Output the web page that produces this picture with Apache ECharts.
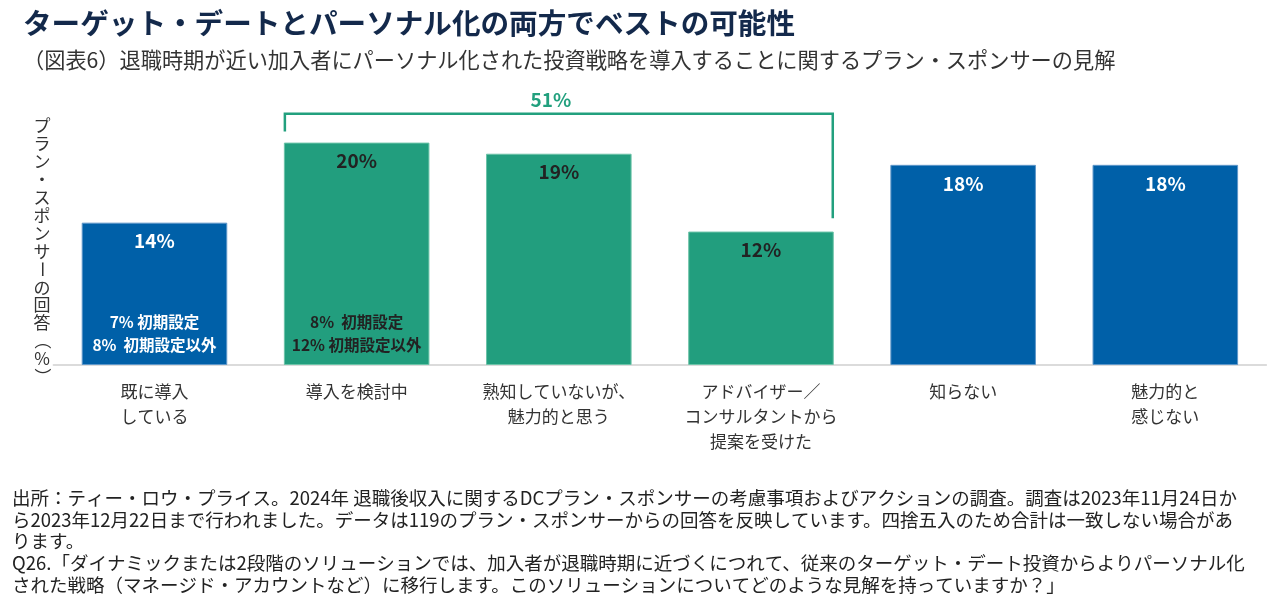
<!DOCTYPE html>
<html><head><meta charset="utf-8">
<script src="https://cdn.jsdelivr.net/npm/echarts@6/dist/echarts.min.js"></script>
<style>html,body{margin:0;padding:0;background:#fff}#c{width:1280px;height:610px}</style>
</head><body><div id="c"></div>
<script>
const titleText = 'ターゲット・デートとパーソナル化の両方でベストの可能性';
const subtitleText = '（図表6）退職時期が近い加入者にパーソナル化された投資戦略を導入することに関するプラン・スポンサーの見解';
const categories = ['既に導入\nしている', '導入を検討中', '熟知していないが、\n魅力的と思う', 'アドバイザー／\nコンサルタントから\n提案を受けた', '知らない', '魅力的と\n感じない'];
const values = [12.8, 20, 19, 12, 18, 18];
const valueLabels = ['14%', '20%', '19%', '12%', '18%', '18%'];
const groups = ['blue', 'green', 'green', 'green', 'blue', 'blue'];
const breakdown = [['7% 初期設定', '8%  初期設定以外'], ['8%  初期設定', '12% 初期設定以外'], null, null, null, null];
const bracketFrom = 1, bracketTo = 3;
const bracketTopValue = 22.6, bracketLeftEndValue = 21.0, bracketRightEndValue = 13.2;
const bracketLabel = '51%';
const yAxisNameText = 'プラン・スポンサーの回答（%）';
const footnoteLines = [
  '出所：ティー・ロウ・プライス。2024年 退職後収入に関するDCプラン・スポンサーの考慮事項およびアクションの調査。調査は2023年11月24日か',
  'ら2023年12月22日まで行われました。データは119のプラン・スポンサーからの回答を反映しています。四捨五入のため合計は一致しない場合があ',
  'ります。',
  'Q26.「ダイナミックまたは2段階のソリューションでは、加入者が退職時期に近づくにつれて、従来のターゲット・デート投資からよりパーソナル化',
  'された戦略（マネージド・アカウントなど）に移行します。このソリューションについてどのような見解を持っていますか？」'
];

const FONT = "'Noto Sans CJK JP', 'Noto Sans', sans-serif";
const COLORS = {
  blue: {fill: '#0060A8', border: '#5E97C9', text: '#ffffff'},
  green: {fill: '#229E7E', border: '#6CC3A8', text: '#222222'}
};
const BAR_RATIO = 0.72;

// vertical (tategaki) axis name: chars that turn 90° in vertical writing
const ROTATED = ['ー', '（', '）'];
const Y_NAME_X = 42, Y_NAME_TOP = 126, Y_NAME_STEP = 17.9;
const yNameElements = Array.from(yAxisNameText).map((ch, i) => ({
  type: 'text',
  x: Y_NAME_X, y: Y_NAME_TOP + i * Y_NAME_STEP,
  originX: 0, originY: 0,
  rotation: ROTATED.indexOf(ch) >= 0 ? -Math.PI / 2 : 0,
  style: {text: ch, fill: '#333333', font: '17px ' + FONT, align: 'center', verticalAlign: 'middle'}
}));

const chart = echarts.init(document.getElementById('c'));
const option = {
  animation: false,
  textStyle: {fontFamily: FONT},
  title: [
    {text: titleText, left: 18, top: 4, textStyle: {fontFamily: FONT, fontSize: 28.6, fontWeight: 'bold', color: '#13294B'}},
    {text: subtitleText, left: 18, top: 44, textStyle: {fontFamily: FONT, fontSize: 21.2, fontWeight: 'normal', color: '#333333'}}
  ],
  grid: {left: 53.4, right: 13.6, top: 87, bottom: 245},
  xAxis: {
    type: 'category', data: categories,
    axisTick: {show: false},
    axisLine: {lineStyle: {color: '#D0D0D0', width: 1.5}},
    axisLabel: {interval: 0, margin: 14, fontSize: 17, lineHeight: 25, color: '#333333', fontFamily: FONT}
  },
  yAxis: {type: 'value', min: 0, max: 25, show: false},
  series: [
    {
      type: 'bar', barWidth: (BAR_RATIO * 100) + '%', z: 2,
      data: values.map((v, i) => ({
        value: v,
        itemStyle: {color: COLORS[groups[i]].fill, borderColor: COLORS[groups[i]].border, borderWidth: 1},
        label: {color: COLORS[groups[i]].text}
      })),
      label: {
        show: true, position: 'insideTop', distance: 9,
        fontSize: 19, fontWeight: 'bold', fontFamily: FONT,
        formatter: p => valueLabels[p.dataIndex]
      }
    },
    {
      type: 'bar', barWidth: (BAR_RATIO * 100) + '%', barGap: '-100%', z: 3, silent: true,
      data: values.map((v, i) => ({
        value: v,
        itemStyle: {color: 'rgba(0,0,0,0)'},
        label: {show: !!breakdown[i], color: COLORS[groups[i]].text}
      })),
      label: {
        position: 'insideBottom', distance: 8, align: 'center',
        fontSize: 15.5, fontWeight: 'bold', lineHeight: 23, fontFamily: FONT,
        formatter: p => breakdown[p.dataIndex] ? breakdown[p.dataIndex].join('\n') : ''
      }
    },
    {
      type: 'custom', z: 5, silent: true, clip: false,
      data: [[bracketFrom, bracketTopValue]],
      renderItem: (params, api) => {
        const band = api.size([1, 0])[0];
        const half = band * BAR_RATIO / 2;
        const xL = api.coord([bracketFrom, 0])[0] - half + 1;
        const xR = api.coord([bracketTo, 0])[0] + half - 1;
        const yTop = api.coord([bracketFrom, bracketTopValue])[1];
        const yL = api.coord([bracketFrom, bracketLeftEndValue])[1];
        const yR = api.coord([bracketTo, bracketRightEndValue])[1];
        return {
          type: 'group',
          children: [
            {type: 'polyline', shape: {points: [[xL, yL], [xL, yTop], [xR, yTop], [xR, yR]]},
             style: {stroke: '#22A07E', lineWidth: 2.5, fill: null}},
            {type: 'text', x: (xL + xR) / 2 - 8, y: yTop - 14,
             style: {text: bracketLabel, align: 'center', verticalAlign: 'middle',
                     fill: '#22A07E', font: 'bold 19px ' + FONT}}
          ]
        };
      }
    }
  ],
  graphic: yNameElements.concat([
    {type: 'text', left: 12, top: 487,
     style: {text: footnoteLines.join('\n'), fill: '#222222', font: '18.5px ' + FONT, lineHeight: 21.7}}
  ])
};
chart.setOption(option);
</script>
</body></html>
